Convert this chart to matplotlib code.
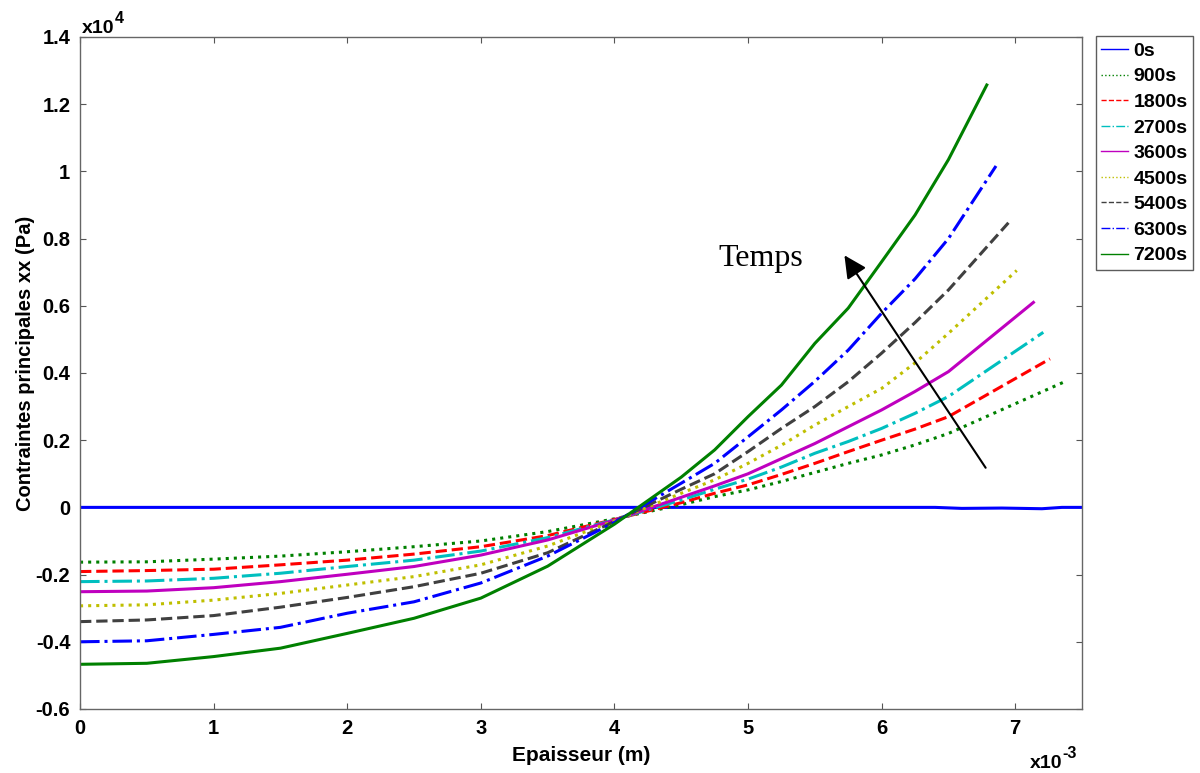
import matplotlib.pyplot as plt

# x in units of 1e-3 m, stresses in units of 1e4 Pa
x_common = [0, 0.5, 1, 1.5, 2, 2.5, 3, 3.5, 4, 4.5, 4.75, 5, 5.25, 5.5, 5.75, 6, 6.25, 6.5]

labels = ['0s', '900s', '1800s', '2700s', '3600s', '4500s', '5400s', '6300s', '7200s']

x_0s = [0, 6.4, 6.6, 6.9, 7.2, 7.35, 7.5]
s_0s = [0, 0, -0.003, -0.002, -0.004, 0, 0]

# last x of each non-zero curve (they stop at different thicknesses)
x_end = [7.37, 7.26, 7.21, 7.136, 7.011, 6.949, 6.856, 6.787]
s_900 = [-0.163, -0.162, -0.154, -0.145, -0.132, -0.117, -0.100, -0.072, -0.034, 0.008,
         0.032, 0.052, 0.077, 0.104, 0.131, 0.156, 0.186, 0.22, 0.374]
s_1800 = [-0.191, -0.188, -0.184, -0.171, -0.157, -0.139, -0.117, -0.084, -0.036, 0.014,
          0.042, 0.067, 0.098, 0.131, 0.166, 0.20, 0.233, 0.27, 0.442]
s_2700 = [-0.221, -0.219, -0.211, -0.196, -0.176, -0.157, -0.130, -0.090, -0.037, 0.022,
          0.054, 0.084, 0.12, 0.161, 0.196, 0.235, 0.28, 0.33, 0.521]
s_3600 = [-0.251, -0.249, -0.239, -0.221, -0.199, -0.176, -0.142, -0.097, -0.038, 0.030,
          0.064, 0.100, 0.145, 0.19, 0.24, 0.29, 0.345, 0.404, 0.610]
s_4500 = [-0.293, -0.290, -0.276, -0.256, -0.231, -0.206, -0.171, -0.115, -0.040, 0.042,
          0.082, 0.131, 0.185, 0.245, 0.30, 0.354, 0.43, 0.518, 0.705]
s_5400 = [-0.340, -0.335, -0.322, -0.297, -0.268, -0.236, -0.196, -0.135, -0.042, 0.054,
          0.10, 0.166, 0.235, 0.30, 0.374, 0.459, 0.55, 0.647, 0.847]
s_6300 = [-0.400, -0.397, -0.378, -0.357, -0.315, -0.281, -0.225, -0.145, -0.045, 0.072,
          0.131, 0.21, 0.29, 0.375, 0.468, 0.578, 0.68, 0.80, 1.016]
s_7200 = [-0.467, -0.464, -0.444, -0.419, -0.375, -0.33, -0.27, -0.175, -0.05, 0.09,
          0.171, 0.27, 0.364, 0.488, 0.593, 0.731, 0.87, 1.035, 1.257]

series = [s_900, s_1800, s_2700, s_3600, s_4500, s_5400, s_6300, s_7200]

colors = ['#0000ff', '#008000', '#ff0000', '#00bfbf', '#bf00bf',
          '#bfbf00', '#404040', '#0000ff', '#008000']
styles = ['-', ':', '--', '-.', '-', ':', '--', '-.', '-']

plt.rcParams['font.family'] = ['Liberation Sans', 'DejaVu Sans']

fig = plt.figure(figsize=(12, 7.73), dpi=100)
ax = fig.add_axes([0.0667, 0.0828, 0.835, 0.8694])

lines = []
ln, = ax.plot(x_0s, s_0s, color=colors[0], ls=styles[0], lw=2.2)
lines.append(ln)
for i, s in enumerate(series):
    xs = x_common + [x_end[i]]
    ln, = ax.plot(xs, s, color=colors[i + 1], ls=styles[i + 1], lw=2.2)
    lines.append(ln)

ax.set_xlim(0, 7.5)
ax.set_ylim(-0.6, 1.4)
ax.set_xticks(range(0, 8))
ax.set_yticks([-0.6, -0.4, -0.2, 0, 0.2, 0.4, 0.6, 0.8, 1, 1.2, 1.4])
ax.set_yticklabels(['-0.6', '-0.4', '-0.2', '0', '0.2', '0.4', '0.6', '0.8', '1', '1.2', '1.4'])
ax.tick_params(direction='in', length=4, width=0.8, color='#555555',
               top=True, right=True, labelsize=14.5, pad=7)
for lab in ax.get_xticklabels() + ax.get_yticklabels():
    lab.set_fontweight('bold')
for sp in ax.spines.values():
    sp.set_color('#666666')
    sp.set_linewidth(1.0)

ax.set_xlabel('Epaisseur (m)', fontsize=15, fontweight='bold', labelpad=6)
ax.set_ylabel('Contraintes principales xx (Pa)', fontsize=14.5, fontweight='bold')
ax.yaxis.set_label_coords(-0.045, 0.515)

# exponent labels, MATLAB style
fig.text(0.068, 0.957, 'x10', fontsize=14, fontweight='bold')
fig.text(0.0955, 0.970, '4', fontsize=11.5, fontweight='bold')
fig.text(0.858, 0.007, 'x10', fontsize=14, fontweight='bold')
fig.text(0.8855, 0.020, '-3', fontsize=11.5, fontweight='bold')

ax.annotate('', xy=(5.71, 0.757), xytext=(6.79, 0.111),
            arrowprops=dict(arrowstyle='-|>', color='black', lw=1.5,
                            mutation_scale=34))
ax.text(4.78, 0.742, 'Temps', fontsize=23, family='Liberation Serif', va='center')

leg = fig.legend(lines, labels, loc='upper left', bbox_to_anchor=(0.913, 0.953),
                 fontsize=14, frameon=True, fancybox=False, handlelength=1.35,
                 handletextpad=0.3, labelspacing=0.41, borderpad=0.3,
                 borderaxespad=0)
leg.get_frame().set_edgecolor('#333333')
leg.get_frame().set_linewidth(1.0)
for t in leg.get_texts():
    t.set_fontweight('bold')
for h in leg.get_lines():
    h.set_linewidth(1.0)

fig.savefig('out.png', dpi=100)
